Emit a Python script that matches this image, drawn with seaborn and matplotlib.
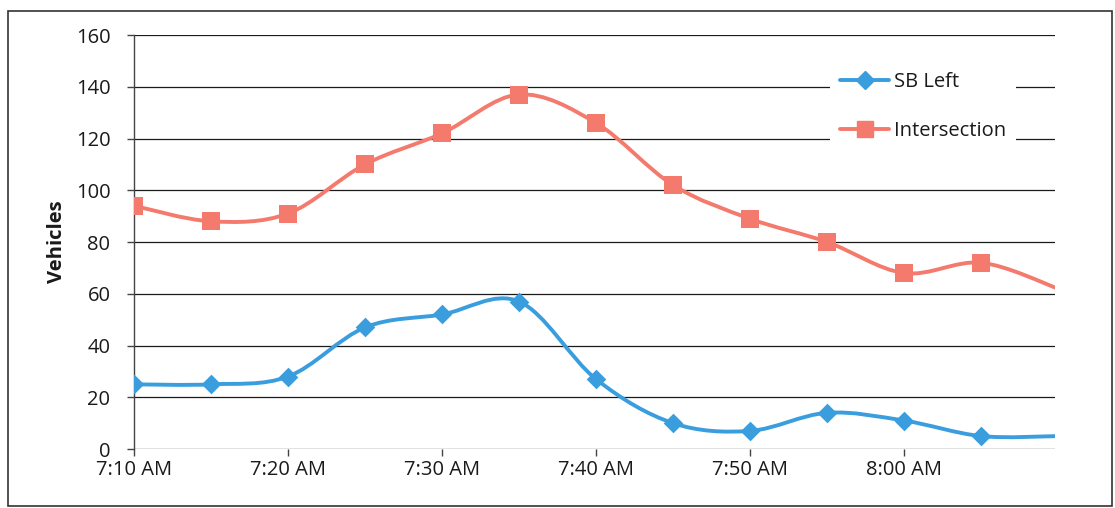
import numpy as np
import pandas as pd
import seaborn as sns
from matplotlib import pyplot
from matplotlib.path import Path
from matplotlib.patches import PathPatch, Rectangle
from matplotlib.lines import Line2D

sns.set_style("white")
pyplot.rcParams['font.family'] = ['Open Sans', 'DejaVu Sans']

# minutes after 7:00 AM, one count every 5 minutes
minutes = [10, 15, 20, 25, 30, 35, 40, 45, 50, 55, 60, 65, 70]
sb_left = [25, 25, 28, 47, 52, 57, 27, 10, 7, 14, 11, 5, 5]
intersection = [94, 88, 91, 110, 122, 137, 126, 102, 89, 80, 68, 72, 62]
tick_minutes = [10, 20, 30, 40, 50, 60]
tick_labels = ['7:10 AM', '7:20 AM', '7:30 AM', '7:40 AM', '7:50 AM', '8:00 AM']

BLUE = '#3a9ede'
SALMON = '#f37a6c'
FS = 14.5


def smooth_path(xs, ys):
    # Excel style smoothed line: cubic bezier through every point
    pts = np.column_stack([xs, ys]).astype(float)
    verts = [pts[0]]
    codes = [Path.MOVETO]
    n = len(pts)
    for i in range(n - 1):
        p0 = pts[max(i - 1, 0)]
        p1 = pts[i]
        p2 = pts[i + 1]
        p3 = pts[min(i + 2, n - 1)]
        c1 = p1 + (p2 - p0) / 6.0
        c2 = p2 - (p3 - p1) / 6.0
        verts += [c1, c2, p2]
        codes += [Path.CURVE4] * 3
    return Path(verts, codes)


df = pd.DataFrame({'minute': minutes, 'SB Left': sb_left, 'Intersection': intersection})

fig = pyplot.figure(figsize=(11.15, 5.08), dpi=100)
ax = fig.add_axes([0.1202, 0.1161, 0.826, 0.815])

for col, color in [('Intersection', SALMON), ('SB Left', BLUE)]:
    ax.add_patch(PathPatch(smooth_path(df['minute'], df[col]), facecolor='none',
                           edgecolor=color, lw=2.8, zorder=3, capstyle='round'))

marker_df = df[df['minute'] <= 65]
sns.scatterplot(data=marker_df, x='minute', y='Intersection', marker='s', s=170,
                color=SALMON, edgecolor=SALMON, linewidth=0, ax=ax, zorder=4)
sns.scatterplot(data=marker_df, x='minute', y='SB Left', marker='D', s=100,
                color=BLUE, edgecolor=BLUE, linewidth=0, ax=ax, zorder=4)

ax.set_xlim(10, 69.8)
ax.set_ylim(0, 160)
ax.set_yticks(range(0, 161, 20))
ax.set_xticks(tick_minutes)
ax.set_xticklabels(tick_labels)
ax.yaxis.grid(True, color='#1a1a1a', lw=0.9)
ax.set_axisbelow(True)
for side in ['top', 'right', 'bottom']:
    ax.spines[side].set_visible(False)
ax.spines['left'].set_color('#444444')
ax.spines['left'].set_linewidth(1.0)
ax.tick_params(axis='both', which='both', direction='out', length=5, width=1,
               color='#444444', labelsize=FS, labelcolor='#1a1a1a',
               left=True, bottom=True)
ax.tick_params(axis='y', pad=12)
ax.tick_params(axis='x', pad=3)
ax.set_xlabel('')
ax.set_ylabel('Vehicles', fontsize=FS, fontweight='bold', color='#1a1a1a', labelpad=6)

handles = [Line2D([], [], color=BLUE, lw=2.8, marker='D', markersize=9, label='SB Left'),
           Line2D([], [], color=SALMON, lw=2.8, marker='s', markersize=11, label='Intersection')]
leg = ax.legend(handles=handles, loc='upper left', bbox_to_anchor=(0.756, 0.935),
                frameon=True, fontsize=FS, handlelength=2.4, handletextpad=0.25,
                labelspacing=1.45, borderpad=0.5, borderaxespad=0.0)
leg.get_frame().set_facecolor('white')
leg.get_frame().set_edgecolor('none')
leg.get_frame().set_alpha(1.0)
for t in leg.get_texts():
    t.set_color('#1a1a1a')

fig.patches.append(Rectangle((8 / 1115, 2 / 508), 1104 / 1115, 495 / 508,
                             transform=fig.transFigure, fill=False,
                             edgecolor='#333333', lw=1.2))

pyplot.savefig('out.png', dpi=100)
